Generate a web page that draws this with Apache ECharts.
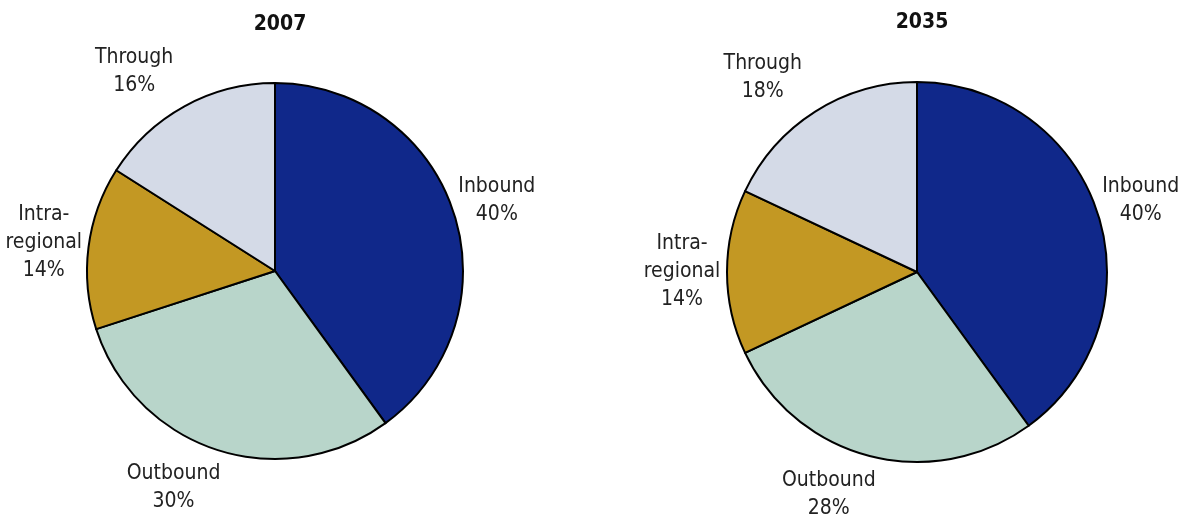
<!DOCTYPE html>
<html><head><meta charset="utf-8">
<script src="https://cdn.jsdelivr.net/npm/echarts@6/dist/echarts.min.js"></script>
<style>html,body{margin:0;padding:0;background:#fff}#c{width:1183px;height:525px}</style>
</head><body><div id="c"></div>
<script>
const categories = ['Inbound', 'Outbound', 'Intra-\nregional', 'Through'];
const values2007 = [40, 30, 14, 16];
const values2035 = [40, 28, 14, 18];
const titles = ['2007', '2035'];
const colors = ['#10288A', '#B8D5CA', '#C39823', '#D4DAE7'];
const labelShift = [0, 26, 0, 26];
const FONT = '"Liberation Sans Narrow", "DejaVu Sans Condensed", sans-serif';

function mk(vals) {
  return categories.map((n, i) => ({
    name: n, value: vals[i], itemStyle: { color: colors[i] },
    labelLine: { length2: labelShift[i] }
  }));
}
const chart = echarts.init(document.getElementById('c'), null, { renderer: 'canvas' });
const seriesBase = {
  type: 'pie',
  startAngle: 90,
  clockwise: true,
  animation: false,
  silent: true,
  avoidLabelOverlap: false,
  itemStyle: { borderColor: '#000', borderWidth: 2 },
  label: {
    show: true, position: 'outside', formatter: '{b}\n{c}%', overflow: 'none',
    fontFamily: FONT, fontSize: 21, color: '#222', lineHeight: 28, align: 'center'
  },
  labelLine: { show: false, length: 40, length2: 0 },
  labelLayout: function () { return { align: 'center' }; }
};
chart.setOption({
  backgroundColor: '#fff',
  title: [
    { text: titles[0], left: 275, top: 9, textAlign: 'center', textStyle: { fontFamily: FONT, fontSize: 21, fontWeight: 'bold', color: '#111' } },
    { text: titles[1], left: 917, top: 7, textAlign: 'center', textStyle: { fontFamily: FONT, fontSize: 21, fontWeight: 'bold', color: '#111' } }
  ],
  series: [
    Object.assign({}, seriesBase, { center: [275, 271], radius: 188, data: mk(values2007) }),
    Object.assign({}, seriesBase, { center: [917, 272], radius: 190, data: mk(values2035) })
  ]
});
</script></body></html>
